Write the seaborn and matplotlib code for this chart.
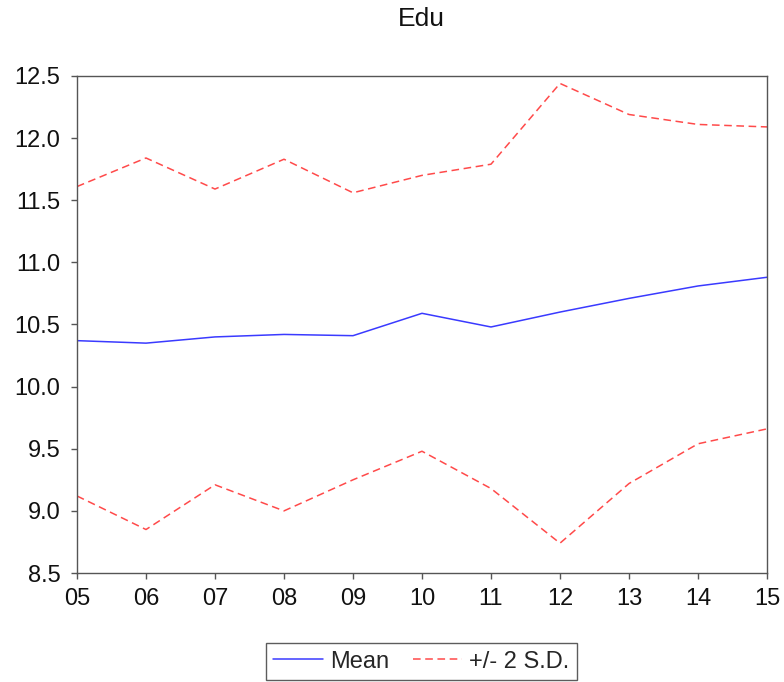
import matplotlib
matplotlib.use("Agg")
import matplotlib.pyplot as plt
import seaborn as sns
import pandas as pd

years = ["05", "06", "07", "08", "09", "10", "11", "12", "13", "14", "15"]
mean = [10.37, 10.35, 10.40, 10.42, 10.41, 10.59, 10.48, 10.60, 10.71, 10.81, 10.88]
upper = [11.61, 11.84, 11.59, 11.83, 11.56, 11.70, 11.79, 12.44, 12.19, 12.11, 12.09]
lower = [9.12, 8.85, 9.21, 9.00, 9.25, 9.48, 9.18, 8.74, 9.22, 9.54, 9.66]
yticks = [8.5, 9.0, 9.5, 10.0, 10.5, 11.0, 11.5, 12.0, 12.5]

sns.set_theme(style="white")
plt.rcParams['font.family'] = ['Liberation Sans', 'DejaVu Sans']

x = list(range(len(years)))
df = pd.DataFrame({"x": x, "mean": mean, "upper": upper, "lower": lower})

fig = plt.figure(figsize=(7.84, 6.82), dpi=100)
ax = fig.add_axes([0.0982, 0.1598, 0.8801, 0.7288])

sns.lineplot(data=df, x="x", y="mean", ax=ax, color="#3a3aff", linewidth=1.1, label="Mean")
sns.lineplot(data=df, x="x", y="upper", ax=ax, color="#ff4a4a", linewidth=1.1,
             linestyle=(0, (5, 3)), label="+/- 2 S.D.")
sns.lineplot(data=df, x="x", y="lower", ax=ax, color="#ff4a4a", linewidth=1.1,
             linestyle=(0, (5, 3)), label="_nolegend_")

ax.set_xlim(0, len(years) - 1)
ax.set_ylim(8.5, 12.5)
ax.set_xticks(x)
ax.set_xticklabels(years)
ax.set_yticks(yticks)
ax.set_yticklabels([f"{v:.1f}" for v in yticks])
ax.set_xlabel("")
ax.set_ylabel("")
ax.tick_params(axis="both", which="both", direction="out", length=4, width=1,
               color="#555555", labelsize=17, labelcolor="#111111",
               bottom=True, left=True, top=False, right=False)
ax.tick_params(axis="y", pad=8)
ax.tick_params(axis="x", pad=7)
for s in ax.spines.values():
    s.set_color("#555555")
    s.set_linewidth(1.0)

fig.suptitle("Edu", fontsize=19, y=0.99, x=0.537, color="#111111")

ax.get_legend().remove()
handles, labels = ax.get_legend_handles_labels()
leg = fig.legend(handles, labels, loc="lower center", bbox_to_anchor=(0.5376, 0.0),
                 ncol=2, frameon=True, fancybox=False, fontsize=17,
                 handlelength=2.1, columnspacing=1.0, handletextpad=0.3,
                 borderpad=0.3, borderaxespad=0.1)
leg.get_frame().set_edgecolor("#333333")
leg.get_frame().set_linewidth(1.0)

fig.savefig("out.png", dpi=100)
